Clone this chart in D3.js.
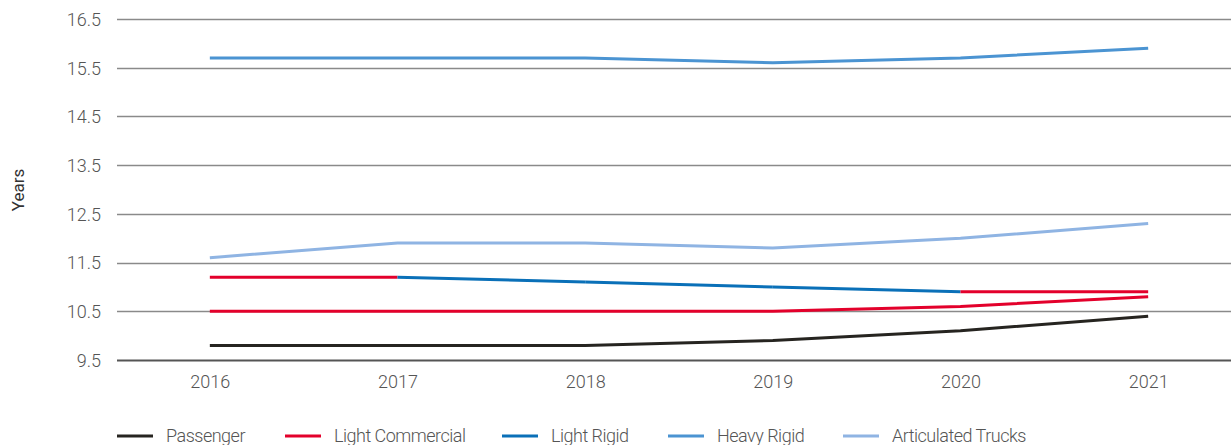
<!DOCTYPE html>
<html><head><meta charset="utf-8">
<script src="https://cdn.jsdelivr.net/npm/d3@7"></script>
<style>
html,body{margin:0;padding:0;background:#fff;}
svg{display:block;font-family:Roboto,"Liberation Sans",sans-serif;font-weight:300;}
</style></head>
<body><svg id="c" width="1231" height="445"></svg>
<script>
const years = ["2016","2017","2018","2019","2020","2021"];
const yTicks = [9.5,10.5,11.5,12.5,13.5,14.5,15.5,16.5];
const seriesNames = ["Passenger","Light Commercial","Light Rigid","Heavy Rigid","Articulated Trucks"];
const seriesColors = ["#262420","#e3002b","#0a70b8","#4b94d2","#8fb4e3"];
const passenger = [9.8,9.8,9.8,9.9,10.1,10.4];
const lightCommercial = [10.5,10.5,10.5,10.5,10.6,10.8];
const lightRigid = [11.2,11.2,11.1,11.0,10.9,10.9];
const heavyRigid = [15.7,15.7,15.7,15.6,15.7,15.9];
const articulated = [11.6,11.9,11.9,11.8,12.0,12.3];
// colour of each segment of Light Rigid as it appears in the original (first and last segments shown red)
const lightRigidSegmentColors = ["#e3002b","#0a70b8","#0a70b8","#0a70b8","#e3002b"];
const seriesValues = [passenger,lightCommercial,lightRigid,heavyRigid,articulated];

const svg = d3.select("#c");
const x = d3.scalePoint().domain(years).range([116,1242]).padding(0.5);
const y = d3.scaleLinear().domain([9.5,16.5]).range([360,19]);

// gridlines
const grid = svg.append("g");
grid.selectAll("line").data(yTicks).join("line")
  .attr("x1",117).attr("x2",1231)
  .attr("y1",d=>Math.round(y(d))+0.5).attr("y2",d=>Math.round(y(d))+0.5)
  .attr("stroke",d=>d===9.5?"#555":"#8a8a8a")
  .attr("stroke-width",d=>d===9.5?2:1.5);

// y axis labels
const yAxis = d3.axisLeft(y).tickValues(yTicks).tickSize(0).tickPadding(0).tickFormat(d3.format(".1f"));
const ya = svg.append("g").attr("transform","translate(101,0)").call(yAxis);
ya.select(".domain").remove();
ya.selectAll("text").attr("fill","#555").attr("font-size",18).attr("font-family","Roboto").attr("font-weight",300).attr("dy","0.35em");

// x axis labels
const xAxis = d3.axisBottom(x).tickSize(0).tickPadding(0);
const xa = svg.append("g").attr("transform","translate(0,382)").call(xAxis);
xa.select(".domain").remove();
xa.selectAll("text").attr("fill","#555").attr("font-size",18).attr("font-family","Roboto").attr("font-weight",300).attr("dy","0.35em");

// y title
svg.append("text").attr("transform","translate(24,190) rotate(-90)")
  .attr("text-anchor","middle").attr("fill","#333").attr("font-size",17).attr("font-weight",400).text("Years");

// lines
const line = d3.line().x((d,i)=>x(years[i])).y(d=>y(d));
const plot = svg.append("g");
seriesValues.forEach((vals,si)=>{
  if(si===2){
    for(let i=0;i<vals.length-1;i++){
      plot.append("path").datum([vals[i],vals[i+1]])
        .attr("d",d3.line().x((d,j)=>x(years[i+j])).y(d=>y(d)))
        .attr("fill","none").attr("stroke",lightRigidSegmentColors[i]).attr("stroke-width",3);
    }
  } else {
    plot.append("path").datum(vals).attr("d",line)
      .attr("fill","none").attr("stroke",seriesColors[si]).attr("stroke-width",3);
  }
});

// legend
const legX = [117,285,502,668,843];
const leg = svg.append("g");
seriesNames.forEach((n,i)=>{
  const g = leg.append("g").attr("transform",`translate(${legX[i]},436)`);
  g.append("line").attr("x1",0).attr("x2",36).attr("y1",0).attr("y2",0)
    .attr("stroke",seriesColors[i]).attr("stroke-width",3);
  g.append("text").attr("x",49).attr("y",0).attr("dy","0.35em")
    .attr("fill","#555").attr("font-size",18).attr("font-weight",300)
    .attr("letter-spacing","-0.5px").text(n);
});
</script></body></html>
